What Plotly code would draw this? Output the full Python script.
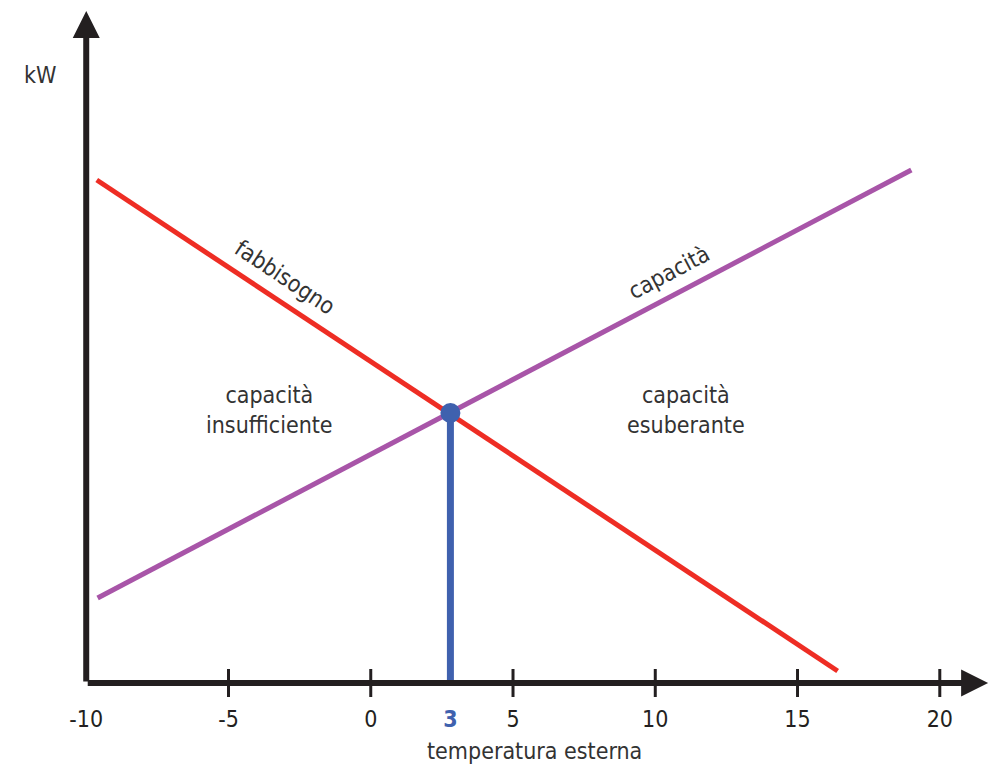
import plotly.graph_objects as go

# ---- data ----
tick_vals = [-10, -5, 0, 5, 10, 15, 20]
tick_text = ["-10", "-5", "0", "5", "10", "15", "20"]

demand_x = [-9.63, 16.41]          # fabbisogno
demand_y = [50.3, 1.2]
capacity_x = [-9.6, 19.0]          # capacità
capacity_y = [8.5, 51.3]

balance_temp = 2.8                  # punto di bivalenza
balance_kw = 27.0
balance_label = "3"

x_range = [-10.5, 21.8]
y_range = [-2, 67.6]
x_axis_end = 21.7
y_axis_end = 67.2

FONT = "Liberation Sans Narrow, DejaVu Sans Condensed, Roboto, sans-serif"
RED = "#EE2D24"
PURPLE = "#A855A8"
BLUE = "#3F61AE"
BLACK = "#231F20"
TXT = "#333333"

L, R, T, B, W, H = 72, 1, 7, 63, 992, 766
PW, PH = W - L - R, H - T - B

fig = go.Figure()

fig.add_trace(go.Scatter(x=demand_x, y=demand_y, mode="lines",
                         line=dict(color=RED, width=5), hoverinfo="skip"))
fig.add_trace(go.Scatter(x=capacity_x, y=capacity_y, mode="lines",
                         line=dict(color=PURPLE, width=5), hoverinfo="skip"))
fig.add_trace(go.Scatter(x=[balance_temp, balance_temp], y=[0, balance_kw], mode="lines",
                         line=dict(color=BLUE, width=7), hoverinfo="skip"))
fig.add_trace(go.Scatter(x=[balance_temp], y=[balance_kw], mode="markers",
                         marker=dict(color=BLUE, size=20), hoverinfo="skip"))

# axes with arrows
fig.add_annotation(x=-10, y=y_axis_end, ax=-10, ay=0, xref="x", yref="y",
                   axref="x", ayref="y", text="", showarrow=True,
                   arrowhead=2, arrowsize=0.9, arrowwidth=6, arrowcolor=BLACK)
fig.add_annotation(x=x_axis_end, y=0, ax=-10, ay=0, xref="x", yref="y",
                   axref="x", ayref="y", text="", showarrow=True,
                   arrowhead=2, arrowsize=0.9, arrowwidth=6, arrowcolor=BLACK)

# tick marks crossing the axis
fig.add_trace(go.Scatter(x=tick_vals[1:], y=[0] * (len(tick_vals) - 1), mode="markers",
                         marker=dict(symbol="line-ns", size=20,
                                     line=dict(color=BLACK, width=3)),
                         hoverinfo="skip", cliponaxis=False))

all_vals = tick_vals + [balance_temp]
all_text = tick_text + [f'<span style="color:{BLUE}"><b>{balance_label}</b></span>']

fig.update_xaxes(range=x_range, tickvals=all_vals, ticktext=all_text, automargin=False,
                 showgrid=False, zeroline=False, showline=False, ticks="",
                 ticklabelstandoff=0,
                 tickfont=dict(family=FONT, size=23, color=BLACK))
fig.update_yaxes(range=y_range, showgrid=False, zeroline=False, showline=False,
                 showticklabels=False, ticks="", automargin=False)

def label(text, x, y, angle=0, size=23):
    fig.add_annotation(x=x, y=y, xref="x", yref="y", text=text, showarrow=False,
                       textangle=angle, font=dict(family=FONT, size=size, color=TXT),
                       align="center", xanchor="center", yanchor="middle")

def plabel(text, px, py, size=23):
    fig.add_annotation(x=(px - L) / PW, y=(H - B - py) / PH, xref="paper", yref="paper",
                       text=text, showarrow=False, xanchor="center", yanchor="middle",
                       font=dict(family=FONT, size=size, color=TXT))

label("fabbisogno", -3.02, 40.6, angle=33.5)
label("capacità", 10.5, 41.1, angle=-27.7)
label("capacità<br>insufficiente", -3.55, 27.3)
label("capacità<br>esuberante", 11.07, 27.3)
plabel("kW", 40, 75)
plabel("temperatura esterna", 534, 751)

fig.update_layout(width=W, height=H, showlegend=False,
                  margin=dict(l=L, r=R, t=T, b=B),
                  plot_bgcolor="white", paper_bgcolor="white")

fig.write_html("out.html", config={"displayModeBar": False},
               post_script="document.body.style.margin='0';document.body.style.overflow='hidden';")
